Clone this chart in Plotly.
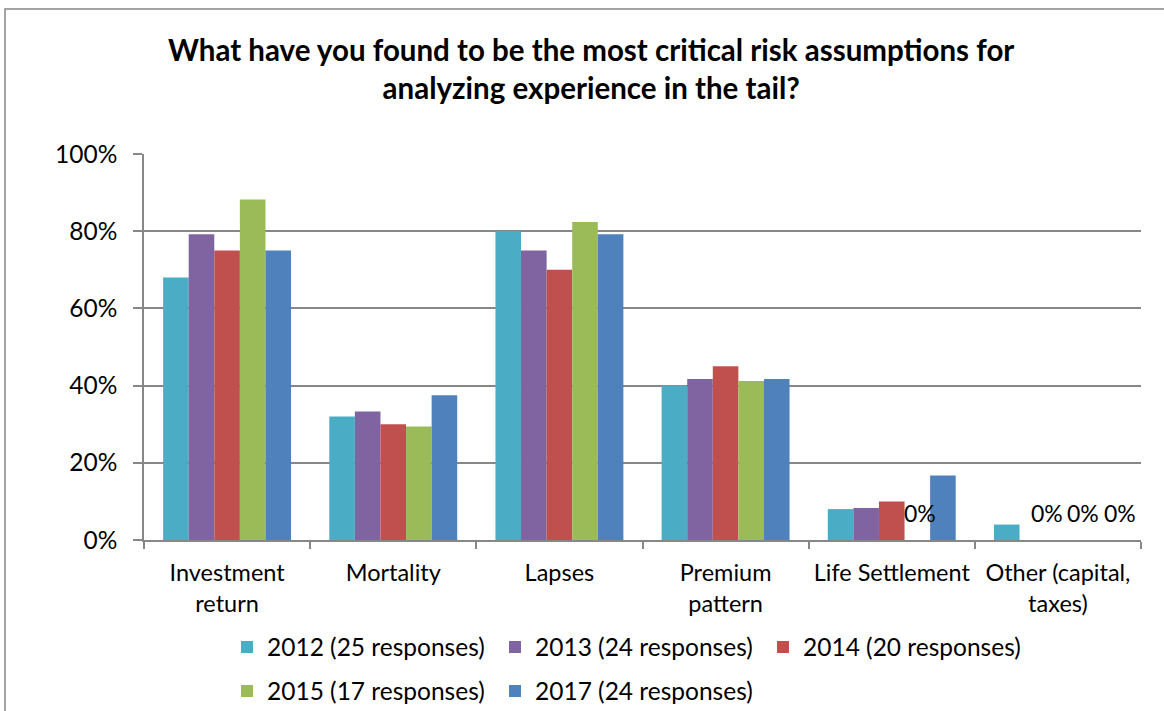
import plotly.graph_objects as go

# Survey question: critical risk assumptions for tail analysis
categories = ["Investment<br>return", "Mortality", "Lapses", "Premium<br>pattern",
              "Life Settlement", "Other (capital,<br>taxes)"]

series_names = ["2012 (25 responses)", "2013 (24 responses)", "2014 (20 responses)",
                "2015 (17 responses)", "2017 (24 responses)"]

# percent of respondents
values_2012 = [68.0, 32.0, 80.0, 40.0, 8.0, 4.0]
values_2013 = [79.2, 33.3, 75.0, 41.7, 8.3, 0.0]
values_2014 = [75.0, 30.0, 70.0, 45.0, 10.0, 0.0]
values_2015 = [88.2, 29.4, 82.4, 41.2, 0.0, 0.0]
values_2017 = [75.0, 37.5, 79.2, 41.7, 16.7, 0.0]

y_ticks = [0, 20, 40, 60, 80, 100]
y_tick_labels = ["0%", "20%", "40%", "60%", "80%", "100%"]

colors = ["#4BACC6", "#8064A2", "#C0504D", "#9BBB59", "#4F81BD"]
all_values = [values_2012, values_2013, values_2014, values_2015, values_2017]

FONT = "Lato"
GRAY = "#878787"
TXT = 24.5

fig = go.Figure()
for i, (name, vals, col) in enumerate(zip(series_names, all_values, colors)):
    fig.add_trace(go.Bar(
        x=categories, y=vals, name=name,
        marker=dict(color=col, line=dict(width=0)),
        legend="legend" if i < 3 else "legend2",
        hoverinfo="x+y+name",
    ))

# zero-value data labels: (category index, series index, extra horizontal nudge in px)
zero_labels = [(4, 3, 3), (5, 2, -11), (5, 3, 0), (5, 4, 11)]
bar_px = 25.4
annotations = []
for ci, si, nudge in zero_labels:
    annotations.append(dict(
        x=categories[ci], y=all_values[si][ci], xref="x", yref="y",
        text=f"{all_values[si][ci]:.0f}%", showarrow=False,
        xshift=(si - 2) * bar_px + nudge, yshift=27,
        font=dict(family=FONT, size=23, color="#000000"),
    ))

annotations.append(dict(
    text="<b>What have you found to be the most critical risk assumptions for<br>"
         "analyzing experience in the tail?</b>",
    x=(591 - 144) / 997, y=(540 - 68) / 386, xref="paper", yref="paper",
    xanchor="center", yanchor="middle", showarrow=False, align="center",
    font=dict(family=FONT, size=29.5, color="#000000"),
))

legend_common = dict(orientation="h", x=(227 - 144) / 997, xanchor="left",
                     yanchor="middle", entrywidth=223, entrywidthmode="pixels",
                     font=dict(family=FONT, size=TXT, color="#000000"),
                     bgcolor="rgba(0,0,0,0)", itemclick=False, itemdoubleclick=False)

fig.update_layout(
    width=1164, height=711,
    margin=dict(l=144, r=23, t=154, b=171, autoexpand=False),
    paper_bgcolor="white", plot_bgcolor="white",
    barmode="group", bargap=0.23, bargroupgap=0,
    annotations=annotations,
    shapes=[dict(type="rect", xref="paper", yref="paper",
                 x0=(5 - 144) / 997, x1=1.2, y0=-1, y1=(540 - 9) / 386,
                 line=dict(color=GRAY, width=1.5), layer="below")],
    legend=dict(legend_common, y=(540 - 647) / 386),
    legend2=dict(legend_common, y=(540 - 691) / 386),
    xaxis=dict(type="category", showline=True, linecolor=GRAY, linewidth=1.5,
               ticks="outside", tickson="boundaries", ticklen=7, tickcolor=GRAY,
               tickwidth=1.5, showgrid=False, tickangle=0, ticklabelstandoff=11,
               tickfont=dict(family=FONT, size=23.5, color="#000000")),
    yaxis=dict(range=[0, 100], tickmode="array", tickvals=y_ticks,
               ticktext=y_tick_labels, showline=True,
               linecolor=GRAY, linewidth=1.5, ticks="outside", ticklen=9,
               tickcolor=GRAY, tickwidth=1.5, showgrid=True, gridcolor=GRAY,
               gridwidth=1.5, zeroline=False, ticklabelstandoff=11,
               tickfont=dict(family=FONT, size=TXT, color="#000000")),
)

fig.write_html("out.html")
